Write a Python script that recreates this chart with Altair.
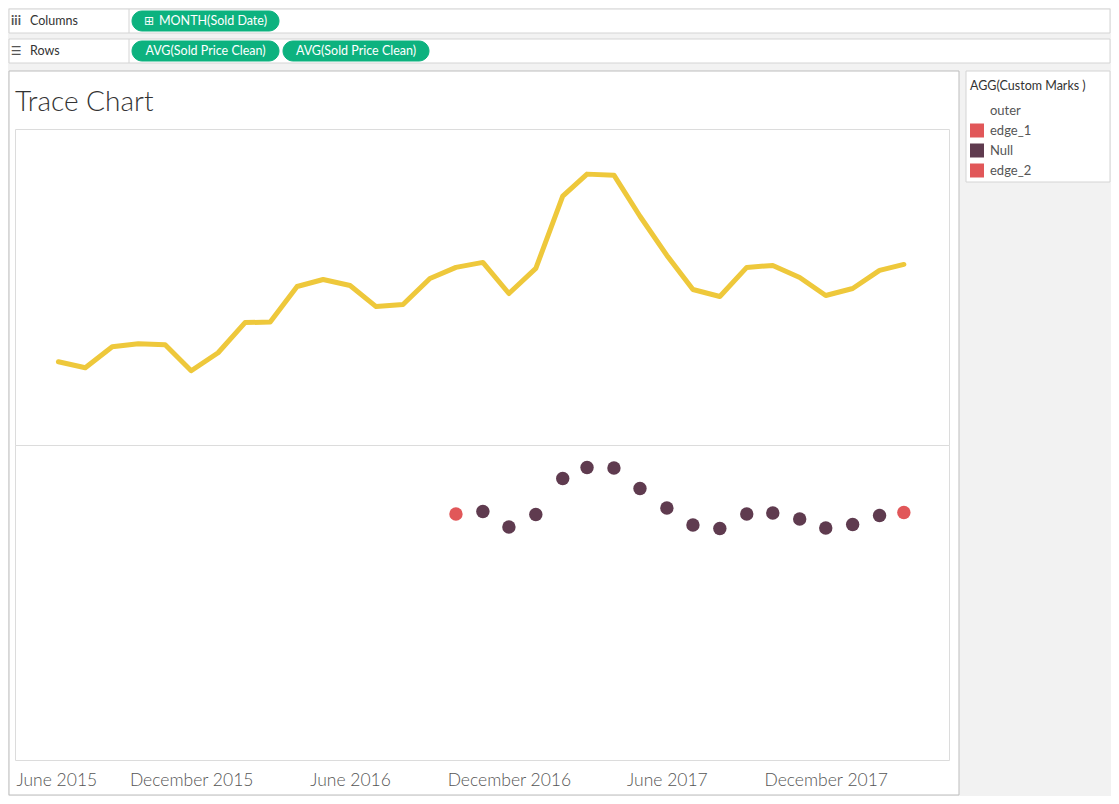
import altair as alt
import pandas as pd

FONT = "Lato"

# ---------------- data ----------------
sold_month = [d.strftime("%Y-%m-%dT00:00:00")
              for d in pd.date_range("2015-07-01", periods=33, freq="MS")]

avg_sold_price = [
    631700, 622200, 655600, 660300, 658700, 617500, 646000, 693700, 694500,
    750800, 761900, 752400, 719000, 722200, 763500, 781000, 788900, 739700,
    779400, 893700, 928600, 927000, 861900, 800000, 746000, 734900, 781000,
    784100, 765100, 736500, 747600, 776200, 785700,
]

custom_marks = [None] * 15 + ["edge_1"] + ["Null"] * 16 + ["edge_2"]

legend_order = ["outer", "edge_1", "Null", "edge_2"]
legend_colors = ["#ffffff", "#e15759", "#5f3b4f", "#e15759"]

tick_months = [(2015, 6), (2015, 12), (2016, 6), (2016, 12), (2017, 6), (2017, 12)]

df = pd.DataFrame({
    "Sold Month": sold_month,
    "AVG(Sold Price Clean)": avg_sold_price,
    "AGG(Custom Marks )": custom_marks,
})
dots = df.dropna(subset=["AGG(Custom Marks )"])

# ---------------- scales ----------------
x_scale = alt.Scale(domain=[alt.DateTime(year=2015, month=5, date=12),
                            alt.DateTime(year=2018, month=4, date=22)])

# ---------------- top pane: line ----------------
top = alt.Chart(df).mark_line(
    color="#eec83b", strokeWidth=5, strokeCap="round", strokeJoin="round"
).encode(
    x=alt.X("Sold Month:T", scale=x_scale, axis=None),
    y=alt.Y("AVG(Sold Price Clean):Q",
            scale=alt.Scale(domain=[500000, 1000000], zero=False), axis=None),
).properties(
    width=934, height=316,
    title=alt.TitleParams("Trace Chart", anchor="start", fontSize=28, font=FONT,
                          fontWeight=300, color="#333333", offset=12, dx=0),
)

# ---------------- bottom pane: dots ----------------
bottom = alt.Chart(dots).mark_circle(size=180, opacity=1).encode(
    x=alt.X("Sold Month:T", scale=x_scale,
            axis=alt.Axis(
                values=[alt.DateTime(year=y, month=m, date=1) for y, m in tick_months],
                format="%B %Y", title=None, ticks=False, domain=False, grid=False,
                labelFont=FONT, labelFontSize=17.5, labelFontWeight=300,
                labelColor="#555555",
                labelPadding=11, labelOverlap=False, labelFlush=False, labelBound=False,
                labelOffset={"condition": {
                    "test": "year(datum.value) == 2015 && month(datum.value) == 5",
                    "value": 24}, "value": 0},
            )),
    y=alt.Y("AVG(Sold Price Clean):Q",
            scale=alt.Scale(domain=[0, 1000000]), axis=None),
    color=alt.Color("AGG(Custom Marks ):N",
                    scale=alt.Scale(domain=legend_order, range=legend_colors),
                    legend=alt.Legend(
                        orient="none", legendX=955, legendY=71,
                        title="AGG(Custom Marks )", titleFont=FONT, titleFontSize=12.5,
                        titleFontWeight="normal", titleColor="#333333", titlePadding=11,
                        labelFont=FONT, labelFontSize=13, labelColor="#555555",
                        symbolType="square", symbolSize=196, symbolStrokeWidth=0,
                        symbolOpacity=1, rowPadding=6, labelOffset=6, padding=0,
                    )),
).properties(width=934, height=315)

# ---------------- Tableau shelves / frame (decoration) ----------------
base = alt.Chart(alt.Data(values=[{"k": 0}]))


def box(x1, x2, y1, y2, fill, stroke, radius=0):
    kw = dict(fill=fill, stroke=stroke, strokeWidth=1)
    if radius:
        kw["cornerRadius"] = radius
    return base.mark_rect(**kw).encode(
        x=alt.value(x1), x2=alt.value(x2), y=alt.value(y1), y2=alt.value(y2))


def label(txt, x, y, color="#333333", size=12.5, align="left", weight="normal", font=FONT):
    return base.mark_text(text=txt, align=align, baseline="middle", fontSize=size,
                          font=font, color=color, fontWeight=weight).encode(
        x=alt.value(x), y=alt.value(y))


def vline(x, y1, y2, color):
    return base.mark_rule(color=color).encode(
        x=alt.value(x), y=alt.value(y1), y2=alt.value(y2))


PILL = "#0db27f"
header = alt.layer(
    box(-6, 944, 62, 786, "#ffffff", "#bdbdbd"),
    box(951, 1095, 62, 173, "#ffffff", "#d4d4d4"),
    box(-6, 1095, 0, 24, "#ffffff", "#d4d4d4"),
    box(-6, 1095, 30, 54, "#ffffff", "#d4d4d4"),
    vline(114, 0, 24, "#d4d4d4"),
    vline(114, 30, 54, "#d4d4d4"),
    label("iii", 1, 12, color="#555555", size=13, align="center", weight="bold"),
    label("☰", 1, 42, color="#555555", size=12, align="center", font="DejaVu Sans"),
    label("Columns", 15, 12),
    label("Rows", 15, 42),
    box(117, 264, 2, 22, PILL, PILL, radius=10),
    box(117, 264, 32, 52, PILL, PILL, radius=10),
    box(268, 414, 32, 52, PILL, PILL, radius=10),
    label("⊞", 134, 12, color="#ffffff", size=12, align="center", font="DejaVu Sans"),
    label("MONTH(Sold Date)", 144, 12, color="#ffffff"),
    label("AVG(Sold Price Clean)", 190.5, 42, color="#ffffff", align="center"),
    label("AVG(Sold Price Clean)", 341, 42, color="#ffffff", align="center"),
).properties(width=1095, height=120, view=alt.ViewBackground(stroke="transparent"))

chart = alt.vconcat(header, top, bottom, spacing=0, bounds="flush").properties(
    padding=0,
    background="#f2f2f2",
).configure_view(stroke="#dcdcdc")

chart.save("out.html", embed_options={"renderer": "svg", "actions": False})
